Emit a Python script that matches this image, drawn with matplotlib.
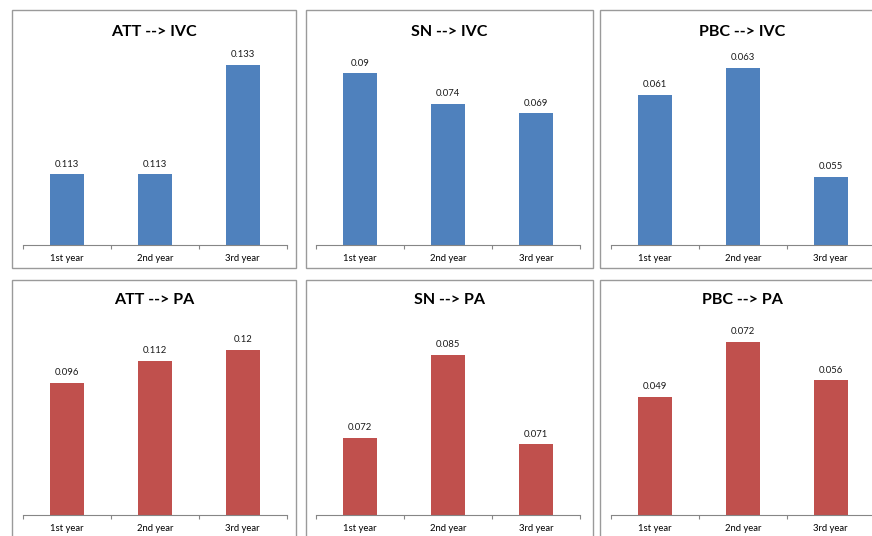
import matplotlib
matplotlib.use('Agg')
import matplotlib.pyplot as plt
from matplotlib.patches import Rectangle

plt.rcParams['font.family'] = ['Lato', 'DejaVu Sans']

# data
categories = ['1st year', '2nd year', '3rd year']
att_ivc = [0.113, 0.113, 0.133]
sn_ivc = [0.09, 0.074, 0.069]
pbc_ivc = [0.061, 0.063, 0.055]
att_pa = [0.096, 0.112, 0.12]
sn_pa = [0.072, 0.085, 0.071]
pbc_pa = [0.049, 0.072, 0.056]

titles = ['ATT --> IVC', 'SN --> IVC', 'PBC --> IVC',
          'ATT --> PA', 'SN --> PA', 'PBC --> PA']
series = [att_ivc, sn_ivc, pbc_ivc, att_pa, sn_pa, pbc_pa]
ylims = [(0.1, 0.135), (0, 0.1), (0.05, 0.064),
         (0, 0.14), (0.06, 0.09), (0, 0.08)]

blue = '#4F81BD'
red = '#C0504D'

W, H = 872, 536
fig = plt.figure(figsize=(W / 100, H / 100), dpi=100)
fig.patch.set_facecolor('white')

# layout in pixels (x from left, y from top)
frame_x = [(12, 296), (306, 592.7), (600, 884)]
frame_y = [(10, 268), (280, 548)]
axes_x = [(22.7, 286.7), (316, 580), (610.7, 874.7)]
axes_y = [(54, 245), (322.5, 514.5)]
title_y = [32, 300.5]


def fx(px):
    return px / W


def fy(py):
    return 1 - py / H


for i in range(6):
    r, c = divmod(i, 3)
    # chart frame
    x0, x1 = frame_x[c]
    y0, y1 = frame_y[r]
    fig.patches.append(Rectangle((fx(x0), fy(y1)), fx(x1 - x0), (y1 - y0) / H,
                                 transform=fig.transFigure, facecolor='none',
                                 edgecolor='#9A9A9A', linewidth=1.0))
    fig.text(fx((x0 + x1) / 2), fy(title_y[r]), titles[i], ha='center', va='center',
             fontsize=11.5, fontweight='bold', color='black')

    ax0, ax1 = axes_x[c]
    ay0, ay1 = axes_y[r]
    ax = fig.add_axes([fx(ax0), fy(ay1), fx(ax1 - ax0), (ay1 - ay0) / H])
    ax.patch.set_alpha(0)
    vals = series[i]
    color = blue if r == 0 else red
    bars = ax.bar(range(3), vals, width=0.39, color=color, edgecolor='none')
    lo, hi = ylims[i]
    ax.set_ylim(lo, hi)
    ax.set_xlim(-0.5, 2.5)
    for b, v in zip(bars, vals):
        ax.annotate(f'{v:g}', (b.get_x() + b.get_width() / 2, v),
                    xytext=(0, 4), textcoords='offset points',
                    ha='center', va='bottom', fontsize=6.8, color='#1a1a1a')
    for s in ['left', 'right', 'top']:
        ax.spines[s].set_visible(False)
    ax.spines['bottom'].set_color('#868686')
    ax.spines['bottom'].set_linewidth(0.8)
    ax.set_yticks([])
    ax.set_xticks(range(3))
    ax.set_xticklabels(categories, fontsize=6.8)
    ax.tick_params(axis='x', which='major', length=0, pad=6.5)
    ax.set_xticks([-0.5, 0.5, 1.5, 2.5], minor=True)
    ax.tick_params(axis='x', which='minor', length=3, width=0.8,
                   color='#868686', direction='out')

fig.savefig('out.png', dpi=100, facecolor='white')
